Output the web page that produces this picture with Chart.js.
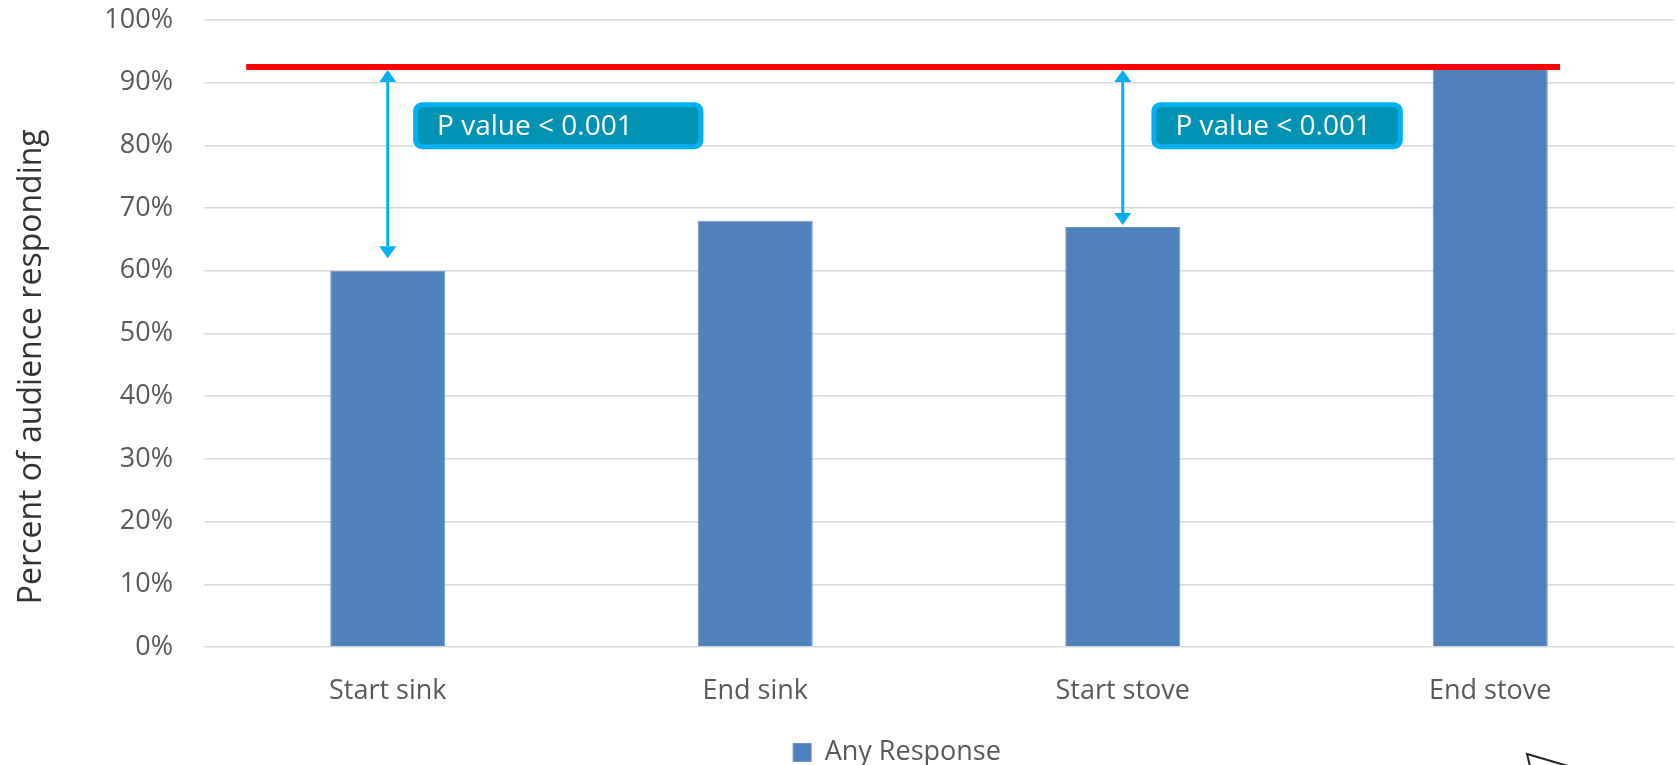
<!DOCTYPE html>
<html>
<head>
<meta charset="utf-8">
<script src="https://cdn.jsdelivr.net/npm/chart.js@4.4.1/dist/chart.umd.min.js"></script>
<style>
    html, body { margin: 0; padding: 0; background: #ffffff; }
</style>
</head>
<body>
<canvas id="response_chart" width="1677" height="765"></canvas>
<script>
// 回答率データ
const categories = ['Start sink', 'End sink', 'Start stove', 'End stove'];
const anyResponse = [60, 68, 67, 93];
const seriesName = 'Any Response';
const axisTitle = 'Percent of audience responding';

// 比較の基準線と矢印（値は y 軸の%）
const referenceLevel = 92.5;
const comparedBars = [0, 2];
const arrowEnds = [62, 67.3];
const pValueTexts = ['P value < 0.001', 'P value < 0.001'];

const FONT = "'Open Sans', 'Noto Sans', sans-serif";
const BAR_COLOR = '#4F81BD';
const GRID_COLOR = '#D9D9D9';
const TICK_COLOR = '#595959';

// 注釈の配置（カテゴリ幅に対する割合 / y 値）
const boxLayout = [
    { left: 0.069, right: 0.859, top: 86.9, bottom: 79.4 },
    { left: 0.078, right: 0.762, top: 86.9, bottom: 79.4 },
];
const refLineFrom = -0.385;
const refLineTo = 3.19;

const roundRect = (ctx, x, y, w, h, r) => {
    ctx.beginPath();
    ctx.moveTo(x + r, y);
    ctx.arcTo(x + w, y, x + w, y + h, r);
    ctx.arcTo(x + w, y + h, x, y + h, r);
    ctx.arcTo(x, y + h, x, y, r);
    ctx.arcTo(x, y, x + w, y, r);
    ctx.closePath();
};

/**
 * 基準線・矢印・P値ラベルを描くプラグイン
 */
const comparisonPlugin = {
    id: 'comparison',
    afterLayout: (chart) => {
        // 凡例を少し右下へ
        chart.legend.left += 60;
        chart.legend.right += 60;
        chart.legend.top += 11;
        chart.legend.bottom += 11;
    },
    afterDatasetsDraw: (chart) => {
        const ctx = chart.ctx;
        const x = chart.scales.x;
        const y = chart.scales.y;
        const step = x.getPixelForValue(1) - x.getPixelForValue(0);
        const catX = (pos) => x.getPixelForValue(0) + pos * step;
        const refY = y.getPixelForValue(referenceLevel);

        ctx.save();
        // 基準線
        ctx.strokeStyle = '#FF0000';
        ctx.lineWidth = 6;
        ctx.beginPath();
        ctx.moveTo(catX(refLineFrom), refY);
        ctx.lineTo(catX(refLineTo), refY);
        ctx.stroke();

        comparedBars.forEach((bar, i) => {
            const ax = x.getPixelForValue(bar);
            const top = refY + 3;
            const bottom = y.getPixelForValue(arrowEnds[i]);
            const head = 12;
            const half = 8.5;
            ctx.strokeStyle = '#00B0F0';
            ctx.fillStyle = '#00B0F0';
            ctx.lineWidth = 3;
            ctx.beginPath();
            ctx.moveTo(ax, top + head);
            ctx.lineTo(ax, bottom - head);
            ctx.stroke();
            ctx.beginPath();
            ctx.moveTo(ax, top);
            ctx.lineTo(ax - half, top + head);
            ctx.lineTo(ax + half, top + head);
            ctx.closePath();
            ctx.fill();
            ctx.beginPath();
            ctx.moveTo(ax, bottom);
            ctx.lineTo(ax - half, bottom - head);
            ctx.lineTo(ax + half, bottom - head);
            ctx.closePath();
            ctx.fill();

            // P値ラベル
            const b = boxLayout[i];
            const bx = ax + b.left * step;
            const bw = (b.right - b.left) * step;
            const by = y.getPixelForValue(b.top);
            const bh = y.getPixelForValue(b.bottom) - by;
            ctx.fillStyle = '#00B0F0';
            roundRect(ctx, bx, by, bw, bh, 9);
            ctx.fill();
            ctx.fillStyle = '#0093B4';
            roundRect(ctx, bx + 5, by + 5, bw - 10, bh - 10, 5);
            ctx.fill();
            ctx.fillStyle = '#ffffff';
            ctx.font = `28px ${FONT}`;
            ctx.textAlign = 'left';
            ctx.textBaseline = 'middle';
            ctx.fillText(pValueTexts[i], bx + 24, by + bh / 2 + 1);
        });
        ctx.restore();
    },
    afterDraw: (chart) => {
        const ctx = chart.ctx;
        const area = chart.chartArea;
        ctx.save();
        // y 軸タイトル
        ctx.translate(32, area.top + (area.bottom - area.top) * 0.553);
        ctx.rotate(-Math.PI / 2);
        ctx.fillStyle = '#333333';
        ctx.font = `32px ${FONT}`;
        ctx.textAlign = 'center';
        ctx.textBaseline = 'middle';
        ctx.fillText(axisTitle, 0, 0);
        ctx.restore();

        // 右下のカーソル形
        ctx.save();
        ctx.strokeStyle = '#222222';
        ctx.lineWidth = 2;
        ctx.beginPath();
        ctx.moveTo(1530, 766);
        ctx.lineTo(1527, 754);
        ctx.lineTo(1568, 766);
        ctx.stroke();
        ctx.restore();
    }
};

new Chart(document.getElementById('response_chart').getContext('2d'), {
    type: 'bar',
    data: {
        labels: categories,
        datasets: [{
            label: seriesName,
            data: anyResponse,
            backgroundColor: BAR_COLOR,
            borderColor: '#6A93C8',
            borderWidth: 1,
            categoryPercentage: 1,
            barPercentage: 0.313,
        }]
    },
    options: {
        responsive: false,
        animation: false,
        layout: { padding: { top: 20, right: 3, left: 0, bottom: 0 } },
        plugins: {
            legend: {
                position: 'bottom',
                labels: {
                    boxWidth: 18,
                    boxHeight: 18,
                    padding: 10,
                    color: TICK_COLOR,
                    font: { family: FONT, size: 27 },
                },
            },
            tooltip: { enabled: false },
        },
        scales: {
            x: {
                afterFit: (scale) => { scale.height = 71; },
                grid: { display: false },
                border: { display: false },
                ticks: {
                    color: TICK_COLOR,
                    padding: 20,
                    font: { family: FONT, size: 27 },
                },
            },
            y: {
                min: 0,
                max: 100,
                afterFit: (scale) => {
                    scale.width = 204;
                    scale.paddingTop = 0;
                    scale.paddingBottom = 0;
                },
                grid: { color: GRID_COLOR, lineWidth: 1.5, drawTicks: false },
                border: { display: false },
                ticks: {
                    stepSize: 10,
                    color: TICK_COLOR,
                    padding: 31,
                    font: { family: FONT, size: 27 },
                    callback: (value) => value + '%',
                },
            },
        },
    },
    plugins: [comparisonPlugin],
});
</script>
</body>
</html>
